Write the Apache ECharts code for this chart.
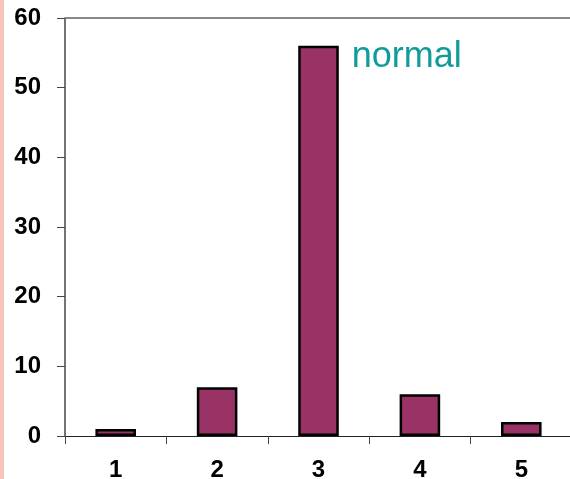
<!DOCTYPE html>
<html><head><meta charset="utf-8">
<script src="https://cdn.jsdelivr.net/npm/echarts@6/dist/echarts.min.js"></script>
<style>html,body{margin:0;padding:0;background:#fff;}#c{width:570px;height:479px;}
#edge{position:absolute;left:0;top:0;width:4px;height:479px;background:#f9c4bb;}</style>
</head><body><div id="c"></div><div id="edge"></div>
<script>
const categories = ['1','2','3','4','5'];
const values = [1, 7, 56, 6, 2];
const yTicks = [0, 10, 20, 30, 40, 50, 60];
const annotation = 'normal';
const annotatedIndex = 2;

const chart = echarts.init(document.getElementById('c'));
chart.setOption({
  animation: false,
  grid: {left: 65, top: 18, width: 507, height: 418, show: true, borderWidth: 0, outerBoundsMode: 'none', containLabel: false},
  xAxis: {
    type: 'category', data: categories,
    axisLine: {lineStyle: {color: '#222', width: 1}},
    axisTick: {show: true, length: 8, lineStyle: {color: '#444'}},
    axisLabel: {fontFamily: 'Liberation Sans, Arial', fontWeight: 'bold', fontSize: 24, color: '#000', margin: 22}
  },
  yAxis: {
    type: 'value', min: yTicks[0], max: yTicks[yTicks.length-1], interval: 10,
    axisLine: {show: true, lineStyle: {color: '#444', width: 1.5}},
    axisTick: {show: true, length: 8, lineStyle: {color: '#444'}},
    splitLine: {show: false},
    axisLabel: {fontFamily: 'Liberation Sans, Arial', fontWeight: 'bold', fontSize: 24, color: '#000', margin: 24}
  },
  series: [
    {
      type: 'bar',
      barWidth: '40%',
      data: values.map((v, i) => i === annotatedIndex ? {
        value: v,
        label: {show: true, formatter: annotation, position: ['100%', 0], offset: [13, -7],
          color: '#119b9b', fontSize: 36, fontFamily: 'Liberation Sans, Arial'}
      } : v),
      itemStyle: {color: '#993366', borderColor: '#000', borderWidth: 2.5}
    },
    {
      type: 'line', data: [], markLine: {
        silent: true, symbol: 'none', label: {show: false},
        lineStyle: {color: '#888', width: 2, type: 'solid'},
        data: [{yAxis: 60}]
      }
    }
  ]
});
</script></body></html>
